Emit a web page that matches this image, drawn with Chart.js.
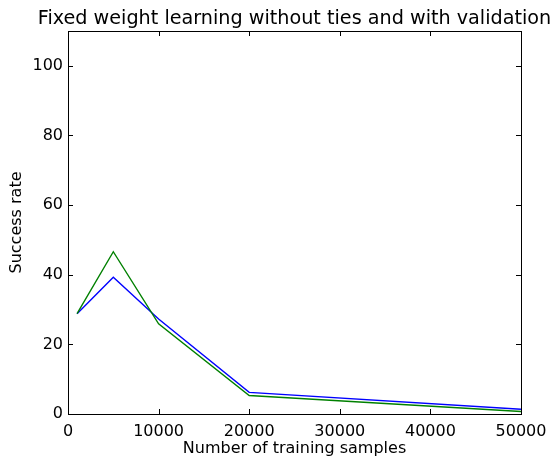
<!DOCTYPE html>
<html><head><meta charset="utf-8">
<script src="https://cdn.jsdelivr.net/npm/chart.js@4"></script>
<style>html,body{margin:0;padding:0;background:#fff}#wrap{width:557px;height:459px}</style>
</head><body><div id="wrap"><canvas id="c"></canvas></div>
<script>
const samples = [1000, 5000, 10000, 20000, 50000];
const blueSeries = [28.8, 39.3, 27.3, 6.2, 1.35];
const greenSeries = [28.8, 46.6, 25.9, 5.3, 0.7];
const xTicks = [0, 10000, 20000, 30000, 40000, 50000];
const yTicks = [0, 20, 40, 60, 80, 100];
const chartTitle = 'Fixed weight learning without ties and with validation';

const toPts = (ys) => samples.map((x, i) => ({x: x, y: ys[i]}));
const FONT = "'DejaVu Sans', sans-serif";

const frameTicks = {
  id: 'frameTicks',
  afterDatasetsDraw(chart) {
    const {ctx, chartArea: a, scales} = chart;
    ctx.save();
    ctx.strokeStyle = '#000';
    ctx.lineWidth = 1;
    const L = 5;
    xTicks.forEach(v => {
      const px = Math.round(scales.x.getPixelForValue(v)) + 0.5;
      ctx.beginPath();
      ctx.moveTo(px, a.bottom); ctx.lineTo(px, a.bottom - L);
      ctx.moveTo(px, a.top); ctx.lineTo(px, a.top + L);
      ctx.stroke();
    });
    yTicks.forEach(v => {
      const py = Math.round(scales.y.getPixelForValue(v)) + 0.5;
      ctx.beginPath();
      ctx.moveTo(a.left, py); ctx.lineTo(a.left + L, py);
      ctx.moveTo(a.right, py); ctx.lineTo(a.right - L, py);
      ctx.stroke();
    });
    ctx.strokeRect(a.left + 0.5, a.top + 0.5, a.right - a.left, a.bottom - a.top);
    ctx.fillStyle = '#000';
    ctx.font = "19.2px " + FONT;
    ctx.textAlign = 'center';
    ctx.textBaseline = 'alphabetic';
    ctx.fillText(chartTitle, (a.left + a.right) / 2, 23.5);
    ctx.restore();
  }
};

new Chart(document.getElementById('c'), {
  type: 'scatter',
  data: {
    datasets: [
      {label: 'green', data: toPts(greenSeries), showLine: true, borderColor: '#008000', backgroundColor: '#008000', borderWidth: 1.4, pointRadius: 0, tension: 0},
      {label: 'blue', data: toPts(blueSeries), showLine: true, borderColor: '#0000ff', backgroundColor: '#0000ff', borderWidth: 1.4, pointRadius: 0, tension: 0}
    ]
  },
  options: {
    responsive: true,
    maintainAspectRatio: false,
    animation: false,
    devicePixelRatio: 1,
    layout: {padding: {left: 0, right: 36, top: 31, bottom: 0}},
    plugins: {
      legend: {display: false},
      tooltip: {enabled: false},
      title: {display: false}
    },
    scales: {
      x: {
        type: 'linear', min: 0, max: 50000,
        afterBuildTicks: (s) => { s.ticks = xTicks.map(v => ({value: v})); },
        afterFit: (s) => { s.height = 45; },
        grid: {display: false, drawTicks: false},
        border: {display: false},
        ticks: {color: '#000', font: {family: FONT, size: 16}, padding: 8, maxRotation: 0, callback: v => String(v)},
        title: {display: true, text: 'Number of training samples', color: '#000', font: {family: FONT, size: 16}, padding: {top: 0, bottom: 1}}
      },
      y: {
        min: 0, max: 110,
        afterBuildTicks: (s) => { s.ticks = yTicks.map(v => ({value: v})); },
        afterFit: (s) => { s.width = 68; },
        grid: {display: false, drawTicks: false},
        border: {display: false},
        ticks: {color: '#000', font: {family: FONT, size: 16}, padding: 5},
        title: {display: true, text: 'Success rate', color: '#000', font: {family: FONT, size: 16}, padding: {top: 7, bottom: 0}}
      }
    }
  },
  plugins: [frameTicks]
});
</script></body></html>
